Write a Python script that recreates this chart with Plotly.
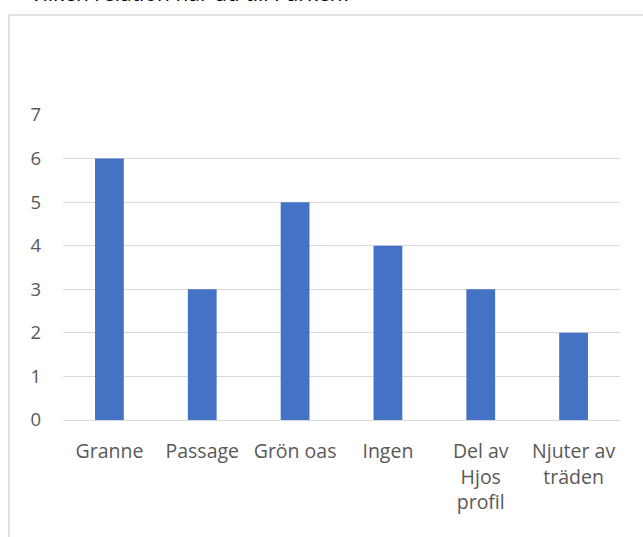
import plotly.graph_objects as go

categories = ["Granne", "Passage", "Grön oas", "Ingen", "Del av<br>Hjos<br>profil", "Njuter av<br>träden"]
values = [6, 3, 5, 4, 3, 2]
y_ticks = [0, 1, 2, 3, 4, 5, 6, 7]
title_text = "Vilken relation har du till Parken?"

W, H = 643, 537
ML, MR, MT, MB = 63, 23, 115, 117
PW, PH = W - ML - MR, H - MT - MB


def px_x(px):
    return (px - ML) / PW


def px_y(py):
    return (H - MB - py) / PH


fig = go.Figure()
fig.add_trace(go.Bar(
    x=categories, y=values,
    marker=dict(color="#4472C4", line=dict(width=0)),
    width=0.31,
))

fig.update_layout(
    width=W, height=H,
    margin=dict(l=ML, r=MR, t=MT, b=MB, autoexpand=False),
    paper_bgcolor="white", plot_bgcolor="white",
    showlegend=False,
    font=dict(family="Open Sans", size=18, color="#595959"),
    xaxis=dict(
        showgrid=False, showline=True, linecolor="#d9d9d9", linewidth=1,
        ticks="outside", ticklen=14, tickcolor="rgba(0,0,0,0)",
        tickfont=dict(family="Open Sans", size=19.5, color="#595959"), fixedrange=True,
    ),
    yaxis=dict(
        range=[0, 7], tickvals=y_ticks, showgrid=True, gridcolor="#d9d9d9", gridwidth=1,
        zeroline=False, showline=False, ticks="",
        ticklabelstandoff=21, tickfont=dict(family="Open Sans", size=18.5, color="#595959"),
        fixedrange=True,
    ),
    shapes=[dict(
        type="rect", xref="paper", yref="paper",
        x0=px_x(9), x1=px_x(660), y0=px_y(560), y1=px_y(15),
        line=dict(color="#d9d9d9", width=1.5), fillcolor="rgba(0,0,0,0)", layer="below",
    )],
    annotations=[dict(
        text=title_text, xref="paper", yref="paper",
        x=px_x(28), y=px_y(9),
        xanchor="left", yanchor="bottom", showarrow=False,
        font=dict(family="Open Sans", size=21, color="#000000"),
    )],
)

fig.write_html(
    "out.html",
    config={"displayModeBar": False},
    post_script="document.body.style.margin='0';document.body.style.padding='0';",
)
